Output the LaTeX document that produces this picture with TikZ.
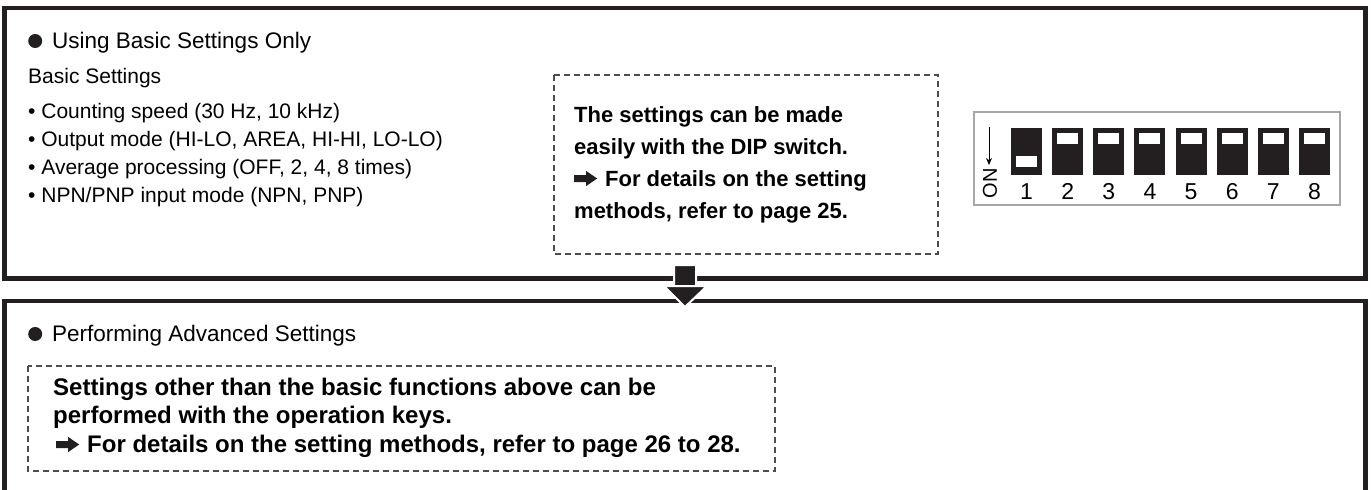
\documentclass[tikz,border=0pt]{standalone}
\usepackage{fontspec}
\setmainfont{Liberation Sans}
\usetikzlibrary{arrows.meta}
\definecolor{ink}{HTML}{231F20}
\definecolor{dashgray}{HTML}{4D4D4F}
% inline marks drawn in the text
\newcommand{\seepage}{\tikz[x=1pt,y=1pt,baseline=0pt]\fill[ink] (0,4)--(12,4)--(12,0)--(23,7.5)--(12,15)--(12,11)--(0,11)--cycle;\hspace{8pt}}
\newcommand{\headdot}{\tikz[x=1pt,y=1pt,baseline=0pt]\fill[ink] (7,7) circle (7pt);\hspace{10pt}}
\tikzset{
  frame/.style={draw=ink, line width=4.5pt},
  dashbox/.style={draw=dashgray, line width=1.3pt, dash pattern=on 6pt off 4pt},
  txt/.style={anchor=base west, inner sep=0pt, font=\fontsize{21}{28}\selectfont},
  headtxt/.style={txt, font=\fontsize{22.5}{28}\selectfont},
  boldtxt/.style={anchor=base west, inner sep=0pt, font=\fontsize{22}{32}\selectfont\bfseries},
  keytxt/.style={anchor=base west, inner sep=0pt, font=\fontsize{24}{28}\selectfont\bfseries},
  digit/.style={anchor=base, inner sep=0pt, font=\fontsize{23}{28}\selectfont},
}
\begin{document}
\begin{tikzpicture}[x=1pt, y=-1pt, line join=miter, >={Stealth[length=7pt,width=6pt]}]
\useasboundingbox (0,0) rectangle (1371,490);
\clip (0,0) rectangle (1371,490);
% upper frame
\draw[frame] (4.5,8) rectangle (1365.5,278.5);
\node[headtxt] (basichead) at (28,48) {\headdot Using Basic Settings Only};
\node[txt] (basictitle) at (28,83) {Basic Settings};
\foreach \t [count=\i] in {{Counting speed (30 Hz, 10 kHz)},{Output mode (HI-LO, AREA, HI-HI, LO-LO)},%
  {Average processing (OFF, 2, 4, 8 times)},{NPN/PNP input mode (NPN, PNP)}}
  \node[txt] (item\i) at (28,{90+28*\i}) {• \t};
\draw[dashbox] (554,75) rectangle (938,254);
\foreach \t [count=\i] in {{The settings can be made},{easily with the DIP switch.},%
  {\seepage For details on the setting},{methods, refer to page 25.}}
  \node[boldtxt] (dipnote\i) at (574,{90+32*\i}) {\t};
% dip switch
\draw[gray!70, line width=1.2pt] (974,112) rectangle (1340,205);
\node[rotate=90, inner sep=0pt, font=\fontsize{20}{22}\selectfont] (onlabel) at (990,183.5) {ON};
\coordinate (ontop) at (989,127);
\draw[->, line width=0.9pt] (ontop) -- (989,165);
\foreach \i in {1,...,8} {
  \pgfmathsetmacro\xl{1011+41.14*(\i-1)}
  \fill[ink] (\xl,128) rectangle ++(31,47);
  \ifnum\i=1
    \fill[white] (\xl+5,156) rectangle ++(21,11);
  \else
    \fill[white] (\xl+5,133) rectangle ++(21,11);
  \fi
  \node[digit] (num\i) at (\xl+15.5,199) {\i};
}
% flow arrow
\filldraw[fill=ink, draw=white, line width=2pt] (674,265) -- (696,265) -- (696,286) -- (707,286)
  -- (685,307) -- (664,286) -- (674,286) -- cycle;
% lower frame
\draw[frame] (4.5,500) -- (4.5,301) -- (1365.5,301) -- (1365.5,500);
\filldraw[fill=ink, draw=white, line width=2pt] (674,286) -- (707,286) -- (685,307) -- (664,286) -- cycle;
\node[headtxt] (advhead) at (28,341) {\headdot Performing Advanced Settings};
\draw[dashbox] (28,366) rectangle (775,471);
\foreach \t/\y [count=\i] in {{Settings other than the basic functions above can be}/395,%
  {performed with the operation keys.}/423.5,%
  {\hspace{3pt}\seepage For details on the setting methods, refer to page 26 to 28.}/452}
  \node[keytxt] (keynote\i) at (53,\y) {\t};
\end{tikzpicture}
\end{document}
